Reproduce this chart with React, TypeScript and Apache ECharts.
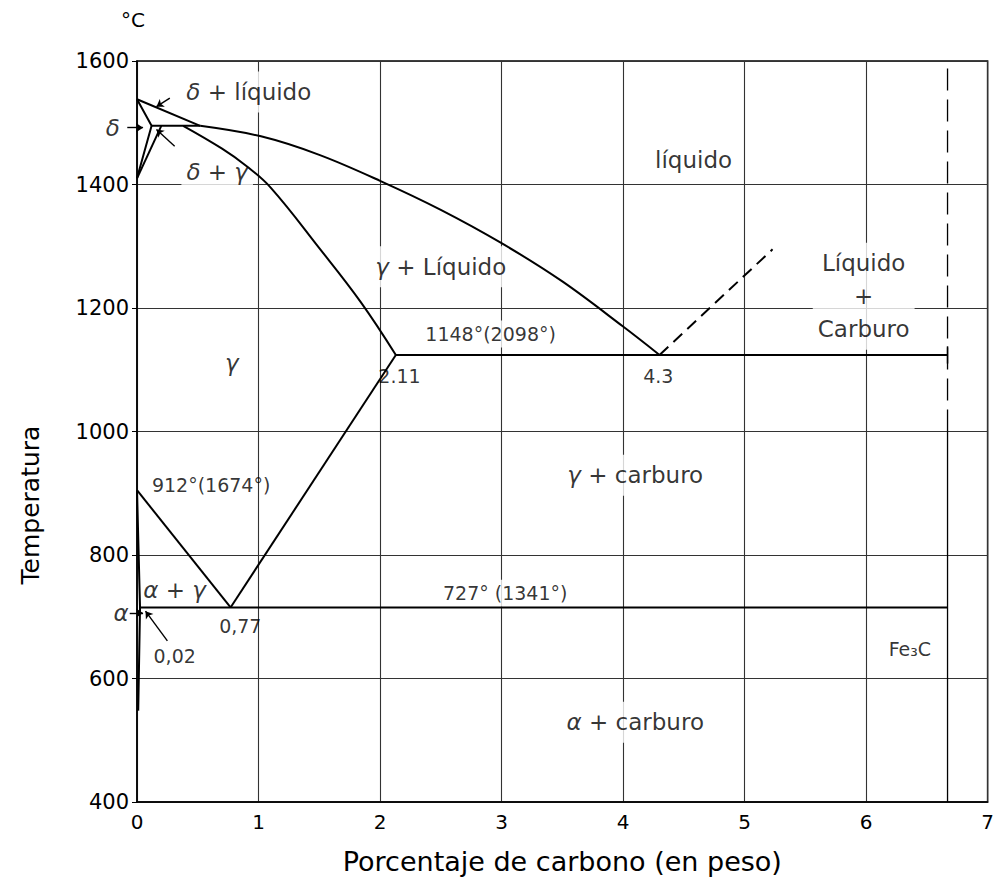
import React, { useEffect, useRef } from "react";
import * as echarts from "echarts";

// Axis ranges / ticks
const xMin = 0, xMax = 7, xStep = 1;
const yMin = 400, yMax = 1600, yStep = 200;

// Phase boundary curves (wt% C, °C)
const liquidusDelta = [[0, 1538], [0.52, 1495]];
const liquidus = [[0.52, 1495], [1.02, 1478], [1.5, 1448], [2, 1406], [2.5, 1359], [3, 1305], [3.5, 1243], [4, 1170], [4.3, 1124]];
const deltaSolidus = [[0, 1538], [0.12, 1495], [0, 1410]];
const deltaGamma = [[0.2, 1495], [0, 1410]];
const peritectic = [[0.12, 1495], [0.52, 1495]];
const solidus = [[0.38, 1495], [0.7, 1458], [0.9, 1430], [1.1, 1395], [1.5, 1297], [1.84, 1210], [2.13, 1124]];
const eutectic = [[2.13, 1124], [6.67, 1124]];
const acm = [[0.77, 715], [2.13, 1124]];
const a3 = [[0, 905], [0.77, 715]];
const eutectoid = [[0.02, 715], [6.67, 715]];
const alphaBoundary = [[0, 905], [0.025, 715], [0.01, 548]];
const cementiteLiquidus = [[4.3, 1124], [5.23, 1295]];
const fe3cUpper = [[6.67, 1000], [6.67, 1600]];
const fe3cLower = [[6.67, 400], [6.67, 1000]];
const fe3cTick = [[6.67, 1110], [6.67, 1138]];

// Region labels: text, carbon %, temperature
const regionText = ["{g|δ} + líquido", "líquido", "{g|δ} + {g|γ}", "{g|γ} + Líquido", "Líquido\n+\nCarburo", "{g|γ}", "{g|γ} + carburo", "{g|α} + {g|γ}", "{g|α} + carburo", "{g|δ}", "{g|α}"];
const regionC = [0.92, 4.58, 0.66, 2.5, 5.98, 0.78, 4.1, 0.31, 4.1, -0.2, -0.13];
const regionT = [1550, 1439, 1421, 1267, 1219, 1111, 929, 743, 529, 1492, 706];
const regionMasked = [true, false, true, true, true, false, true, false, true, false, false];

// Numeric annotations
const noteText = ["1148°(2098°)", "2.11", "4.3", "912°(1674°)", "727° (1341°)", "0,77", "0,02", "Fe₃C"];
const noteC = [2.91, 2.16, 4.29, 0.61, 3.03, 0.85, 0.31, 6.36];
const noteT = [1158, 1090, 1090, 913, 738, 685, 637, 648];
const noteMasked = [true, false, false, false, true, false, false, false];

// Pointer arrows: from -> to
const arrows = [
  [[-0.08, 1492], [0.05, 1492]],
  [[0.27, 1540], [0.16, 1526]],
  [[0.31, 1462], [0.16, 1489]],
  [[-0.06, 706], [0.05, 706]],
  [[0.25, 661], [0.07, 709]],
];

const FONT = "DejaVu Sans";
const INK = "#000";

function curve(data: number[][], opts: any = {}) {
  return {
    type: "line",
    data,
    z: 3,
    symbol: "none",
    silent: true,
    clip: false,
    smooth: opts.smooth ?? false,
    lineStyle: { color: INK, width: opts.width ?? 2, type: opts.dash ?? "solid" },
  };
}

export default function App() {
  const ref = useRef<HTMLDivElement>(null);
  useEffect(() => {
    if (!ref.current) return;
    const chart = echarts.init(ref.current, undefined, { renderer: "svg" });
    const rich = { g: { fontStyle: "italic", fontFamily: FONT, fontSize: 23, color: INK, textBorderWidth: 0 } };
    const option: any = {
      animation: false,
      backgroundColor: "#fff",
      textStyle: { fontFamily: FONT, color: INK },
      grid: { left: 137, right: 4, top: 61, bottom: 73, show: true, borderColor: INK, borderWidth: 1.5 },
      xAxis: {
        type: "value", min: xMin, max: xMax, interval: xStep,
        name: "Porcentaje de carbono (en peso)", nameLocation: "middle", nameGap: 46,
        nameTextStyle: { fontSize: 27, color: INK, fontFamily: FONT },
        axisLine: { show: true, lineStyle: { color: INK, width: 1.5 } },
        axisTick: { show: false },
        axisLabel: { fontSize: 20, color: INK, margin: 10, fontFamily: FONT },
        splitLine: { show: true, lineStyle: { color: "#333", width: 1.1 } },
      },
      yAxis: {
        type: "value", min: yMin, max: yMax, interval: yStep,
        axisLine: { show: true, lineStyle: { color: INK, width: 1.5 } },
        axisTick: { show: true, length: 5, lineStyle: { color: INK } },
        axisLabel: { fontSize: 21, color: INK, margin: 8, fontFamily: FONT, formatter: (v: number) => String(v) },
        splitLine: { show: true, lineStyle: { color: "#333", width: 1.1 } },
      },
      graphic: [
        { type: "text", x: 133, y: 20, style: { text: "°C", font: `20px '${FONT}'`, fill: INK, textAlign: "center", textVerticalAlign: "middle" } },
        { type: "text", x: 30, y: 505, rotation: Math.PI / 2, style: { text: "Temperatura", font: `25px '${FONT}'`, fill: INK, textAlign: "center", textVerticalAlign: "middle" } },
      ],
      series: [
        {
          type: "scatter", z: 1, clip: false, silent: true, symbolSize: 1,
          itemStyle: { color: "rgba(0,0,0,0)" },
          label: { show: true, position: "inside", formatter: (p: any) => p.name, fontSize: 23, color: INK, textBorderWidth: 0, fontFamily: FONT, lineHeight: 33, rich },
          data: regionText.map((t, i) => ({
            name: t, value: [regionC[i], regionT[i]],
            label: regionMasked[i] ? { backgroundColor: "#fff", padding: [4, 5] } : {},
          })),
        },
        {
          type: "scatter", z: 1, clip: false, silent: true, symbolSize: 1,
          itemStyle: { color: "rgba(0,0,0,0)" },
          label: { show: true, position: "inside", formatter: (p: any) => p.name, fontSize: 19, color: INK, textBorderWidth: 0, fontFamily: FONT },
          data: noteText.map((t, i) => ({
            name: t, value: [noteC[i], noteT[i]],
            label: noteMasked[i] ? { backgroundColor: "#fff", padding: [4, 3] } : {},
          })),
        },
        curve(liquidusDelta),
        curve(liquidus, { smooth: 0.35 }),
        curve(deltaSolidus),
        curve(deltaGamma),
        curve(peritectic),
        curve(solidus, { smooth: 0.4 }),
        curve(eutectic),
        curve(acm),
        curve(a3),
        curve(eutectoid),
        curve(alphaBoundary),
        curve(cementiteLiquidus, { dash: [12, 7] }),
        curve(fe3cUpper, { dash: [22, 9], width: 1.3 }),
        curve(fe3cLower, { width: 1.3 }),
        curve(fe3cTick, { width: 1.5 }),
        {
          type: "lines", coordinateSystem: "cartesian2d", z: 3, clip: false, silent: true,
          symbol: ["none", "arrow"], symbolSize: 7,
          lineStyle: { color: INK, width: 1.4, opacity: 1 },
          data: arrows.map((a) => ({ coords: a })),
        },
      ],
    };
    chart.setOption(option);
    return () => chart.dispose();
  }, []);
  return <div ref={ref} style={{ position: "fixed", left: 0, top: 0, width: 997, height: 880, background: "#fff" }} />;
}
